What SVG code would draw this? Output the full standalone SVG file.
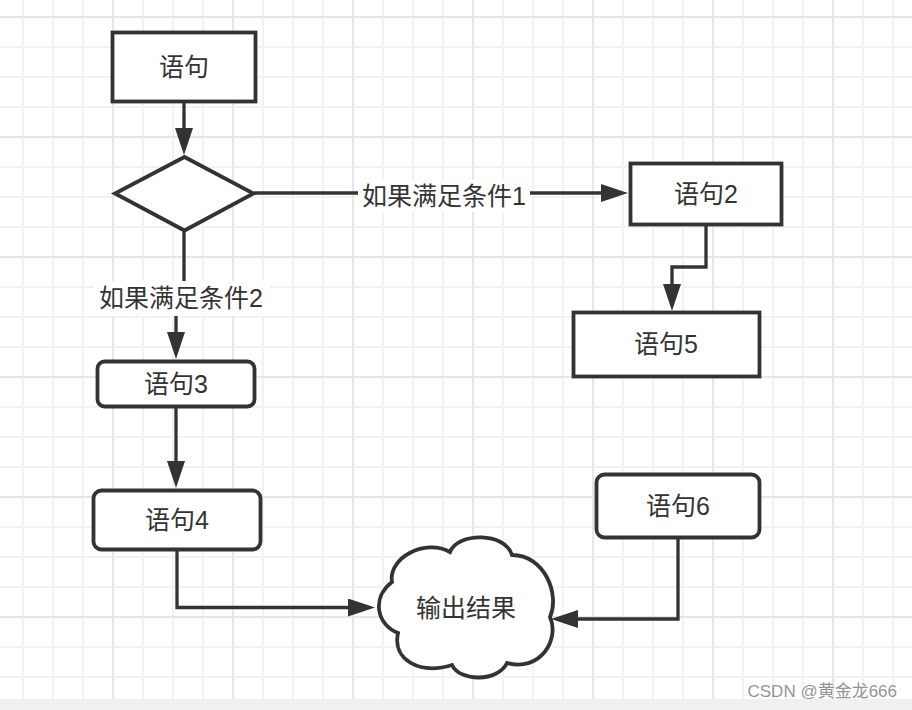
<svg xmlns="http://www.w3.org/2000/svg" width="912" height="710" viewBox="0 0 912 710">
<defs>
<style>
.node{fill:#fff;stroke:#333;stroke-width:3.8}
.conn{fill:none;stroke:#333;stroke-width:3.3}
.t{font-family:"Liberation Sans","Noto Sans CJK SC",sans-serif;font-size:25px;fill:#333;text-anchor:middle}
.lbl{fill:#fff}
.minor{stroke:#f2f2f2;stroke-width:2;fill:none}
.major{stroke:#e7e7e7;stroke-width:2;fill:none}
</style>
<marker id="ah" markerUnits="userSpaceOnUse" markerWidth="28" markerHeight="20" viewBox="0 0 28 20" refX="1" refY="9" orient="auto">
<path d="M0,0 L27,9 L0,18 z" fill="#333"/>
</marker>
</defs>
<rect width="912" height="710" fill="#fff"/>
<g id="grid">
<path class="minor" d="M23,0V699M53,0V699M83,0V699M143,0V699M173,0V699M203,0V699M263,0V699M293,0V699M323,0V699M383,0V699M413,0V699M443,0V699M503,0V699M533,0V699M563,0V699M623,0V699M653,0V699M683,0V699M743,0V699M773,0V699M803,0V699M863,0V699M893,0V699"/>
<path class="minor" d="M0,47H912M0,77H912M0,107H912M0,167H912M0,197H912M0,227H912M0,287H912M0,317H912M0,347H912M0,407H912M0,437H912M0,467H912M0,527H912M0,557H912M0,587H912M0,647H912M0,677H912"/>
<path class="major" d="M113,0V699M233,0V699M353,0V699M473,0V699M593,0V699M713,0V699M833,0V699M0,17H912M0,137H912M0,257H912M0,377H912M0,497H912M0,617H912"/>
<rect x="0" y="699" width="912" height="11" fill="#f0f0f0"/>
</g>
<g id="connectors">
<path class="conn" d="M184,102.5V129" marker-end="url(#ah)"/>
<path class="conn" d="M254,193H602" marker-end="url(#ah)"/>
<path class="conn" d="M184,231V298H176V333" marker-end="url(#ah)"/>
<path class="conn" d="M706,226V267H672V285" marker-end="url(#ah)"/>
<path class="conn" d="M176,408V462" marker-end="url(#ah)"/>
<path class="conn" d="M177,551V607.5H349" marker-end="url(#ah)"/>
<path class="conn" d="M678,539V619H577" marker-end="url(#ah)"/>
<g id="label1"><rect class="lbl" x="358" y="180" width="172" height="32"/><text class="t" x="444" y="205">如果满足条件1</text></g>
<g id="label2"><rect class="lbl" x="94" y="281" width="176" height="35"/><text class="t" x="181" y="307">如果满足条件2</text></g>
</g>
<g id="n1"><rect class="node" x="112.5" y="32.5" width="143" height="69"/><text class="t" x="184" y="76">语句</text></g>
<g id="n_dec"><path class="node" d="M184.5,157L253.5,193.5L184.5,230.5L115,193.5Z" stroke-linejoin="miter"/></g>
<g id="n2"><rect class="node" x="630.5" y="163.5" width="151" height="61"/><text class="t" x="706" y="203">语句2</text></g>
<g id="n5"><rect class="node" x="573.5" y="312.5" width="186" height="64"/><text class="t" x="666" y="353">语句5</text></g>
<g id="n3"><rect class="node" x="97.5" y="361.5" width="157" height="45" rx="7"/><text class="t" x="176" y="393">语句3</text></g>
<g id="n4"><rect class="node" x="93.5" y="490.5" width="167" height="59" rx="8"/><text class="t" x="177" y="529">语句4</text></g>
<g id="n6"><rect class="node" x="596.5" y="474.5" width="163" height="63" rx="8"/><text class="t" x="678" y="515">语句6</text></g>
<g id="n_out"><path class="node" d="M398,633C377,625 371,598 392,582C388,558 425,538 450,552C458,532 505,532 512,555C545,555 560,595 550,617C560,640 540,672 507,663C498,682 460,682 452,665C420,675 392,660 398,633Z"/><text class="t" x="466" y="617">输出结果</text></g>
<text x="897" y="697" font-family="Liberation Sans,'Noto Sans CJK SC',sans-serif" font-size="17" fill="#959595" text-anchor="end">CSDN @黄金龙666</text>
</svg>
